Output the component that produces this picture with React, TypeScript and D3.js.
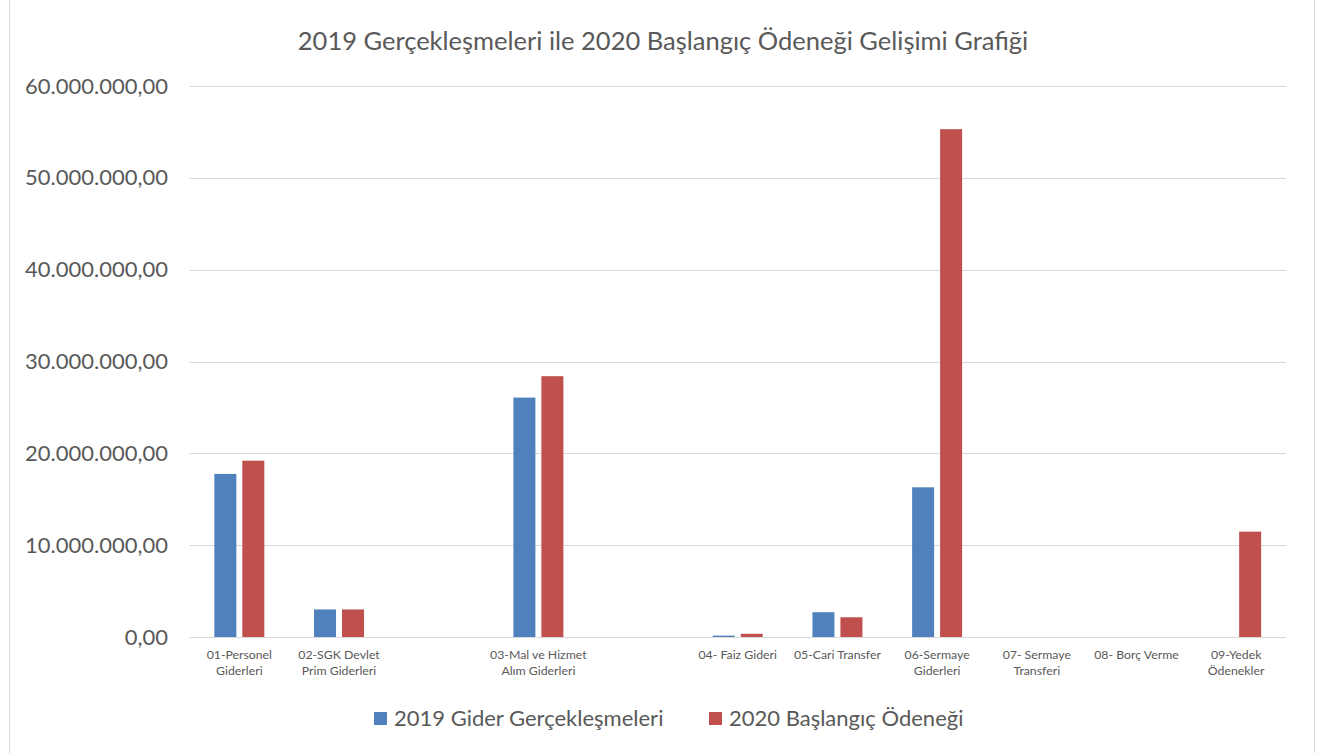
import * as d3 from "d3";

// categories (two empty slots between, as in the source sheet)
const categories = [
  "01-Personel|Giderleri",
  "02-SGK Devlet|Prim Giderleri",
  "",
  "03-Mal ve Hizmet|Alım Giderleri",
  " ",
  "04- Faiz Gideri",
  "05-Cari Transfer",
  "06-Sermaye|Giderleri",
  "07- Sermaye|Transferi",
  "08- Borç Verme",
  "09-Yedek|Ödenekler",
];
const gider2019 = [17760000, 3000000, 0, 26070000, 0, 150000, 2700000, 16300000, 0, 0, 0];
const odenek2020 = [19200000, 3000000, 0, 28400000, 0, 350000, 2150000, 55300000, 0, 0, 11470000];
const seriesNames = ["2019 Gider Gerçekleşmeleri", "2020 Başlangıç Ödeneği"];
const seriesColors = ["#4f81bd", "#c0504d"];
const yTicks = [0, 10000000, 20000000, 30000000, 40000000, 50000000, 60000000];

const W = 1331;
const H = 753;
const font = "Lato, 'Open Sans', sans-serif";
const textColor = "#595959";

const fmt = (v: number) => {
  const s = d3.format(",.2f")(v);
  return s.replace(/,/g, "#").replace(".", ",").replace(/#/g, ".");
};

export default function App() {
  const x = d3.scaleBand<string>().domain(categories).range([189.5, 1286]).padding(0);
  const y = d3.scaleLinear().domain([0, 60000000]).range([637, 86]);
  const mid = x.bandwidth() / 2;
  const inner = d3.scaleBand<number>().domain([0, 1]).range([mid - 25, mid + 25]).paddingInner(0.214);
  const series = [gider2019, odenek2020];

  return (
    <svg width={W} height={H} style={{ position: "absolute", left: 0, top: 0, background: "#fff" }}>
      <rect x={9.5} y={-2} width={1305} height={H + 4} fill="#fff" stroke="#d9d9d9" strokeWidth={1} />
      <text x={663} y={50} textAnchor="middle" fontFamily={font} fontSize={25.5} fill={textColor}>
        2019 Gerçekleşmeleri ile 2020 Başlangıç Ödeneği Gelişimi Grafiği
      </text>
      {yTicks.map((t) => (
        <g key={t}>
          <line x1={189.5} x2={1286} y1={Math.round(y(t)) + 0.5} y2={Math.round(y(t)) + 0.5} stroke="#d9d9d9" strokeWidth={1} />
          <text x={168} y={y(t) + 7.5} textAnchor="end" fontFamily={font} fontSize={22} fill={textColor}>
            {fmt(t)}
          </text>
        </g>
      ))}
      {categories.map((c, i) => (
        <g key={i} transform={`translate(${x(c)},0)`}>
          {series.map((s, j) =>
            s[i] > 0 ? (
              <rect
                key={j}
                x={inner(j)}
                y={y(s[i])}
                width={inner.bandwidth()}
                height={y(0) - y(s[i])}
                fill={seriesColors[j]}
              />
            ) : null
          )}
          {c.trim() !== "" &&
            c.split("|").map((line, k) => (
              <text
                key={k}
                x={mid}
                y={659 + k * 16}
                textAnchor="middle"
                fontFamily={font}
                fontSize={12.3}
                fill={textColor}
              >
                {line}
              </text>
            ))}
        </g>
      ))}
      {seriesNames.map((n, i) => {
        const lx = [374, 709][i];
        return (
          <g key={n}>
            <rect x={lx} y={712} width={13} height={13} fill={seriesColors[i]} />
            <text x={lx + 20} y={726} fontFamily={font} fontSize={22} fill={textColor}>
              {n}
            </text>
          </g>
        );
      })}
    </svg>
  );
}
